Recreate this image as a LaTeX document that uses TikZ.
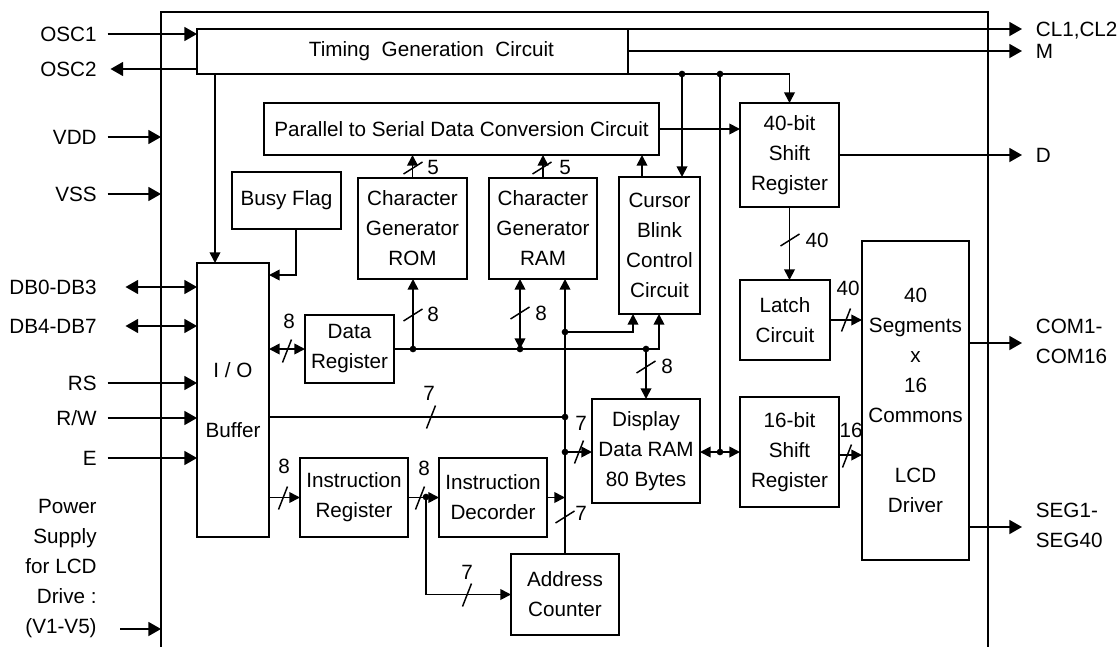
\documentclass[tikz,border=0pt]{standalone}
\usepackage{fontspec}
\setmainfont{Liberation Sans}
\usetikzlibrary{arrows.meta}
\newcommand{\mkblock}[6]{\node[blk,minimum width={(#4-#2)*0.75pt},minimum height={(#5-#3)*0.75pt}] (#1) at ({(#2+#4)/2},{(#3+#5)/2}) {#6};}
\newcommand{\hsl}[2]{\draw[slash] ({#1-4.5},{#2+11.5}) -- ({#1+4.5},{#2-11.5});}
\newcommand{\vsl}[2]{\draw[slash] ({#1-9.5},{#2+6}) -- ({#1+9.5},{#2-6});}
\begin{document}
\begin{tikzpicture}[x=0.75pt,y=-0.75pt,line width=1.3pt,
  every node/.style={font=\fontsize{15.5}{22.5}\selectfont},
  blk/.style={draw,line width=1.3pt,inner sep=0pt,outer sep=0pt,align=center},
  pinlbl/.style={inner sep=0pt,text height=11.1pt,text depth=0pt},
  mlbl/.style={inner sep=0pt},
  arr/.style={-{Triangle[length=8pt,width=8pt]}},
  darr/.style={{Triangle[length=8pt,width=8pt]}-{Triangle[length=8pt,width=8pt]}},
  pinarr/.style={-{Triangle[length=9.5pt,width=10.5pt]}},
  dpinarr/.style={{Triangle[length=9.5pt,width=10.5pt]}-{Triangle[length=9.5pt,width=10.5pt]}},
  slash/.style={line width=1.1pt},
  jdot/.style={fill=black}
]
\useasboundingbox (0,0) rectangle (1120,646);
\clip (0,0) rectangle (1120,646);

% blocks
\mkblock{chip}{161}{12}{988}{700}{}
\mkblock{tg}{197}{29}{628}{74}{\hspace*{28.5pt}Timing~ Generation~ Circuit}
\mkblock{ps}{264}{103}{659}{155}{Parallel to Serial Data Conversion Circuit}
\mkblock{sra}{740}{103}{839}{207}{40-bit\\Shift\\Register}
\mkblock{busy}{232}{172}{341}{229}{Busy Flag}
\mkblock{rom}{358}{178}{467}{279}{Character\\Generator\\ROM}
\mkblock{ram}{489}{178}{597}{279}{Character\\Generator\\RAM}
\mkblock{cur}{619}{177}{700}{314}{Cursor\\Blink\\Control\\Circuit}
\mkblock{io}{197}{263}{269}{537}{I / O\\[22.5pt]Buffer}
\mkblock{dreg}{305}{315}{394}{383}{Data\\Register}
\mkblock{latch}{740}{280}{830}{360}{Latch\\Circuit}
\mkblock{lcd}{862}{241}{969}{560}{40\\Segments\\x\\16\\Commons\\[22.5pt]LCD\\Driver}
\mkblock{ddram}{592}{399}{700}{503}{Display\\Data RAM\\80 Bytes}
\mkblock{srb}{740}{397}{839}{507}{16-bit\\Shift\\Register}
\mkblock{ir}{300}{458}{408}{537}{Instruction\\Register}
\mkblock{dec}{439}{458}{547}{537}{Instruction\\Decorder}
\mkblock{ac}{511}{554}{619}{635}{Address\\Counter}

% pin labels left
\node[pinlbl,anchor=east] (osc1) at (97.5,34) {OSC1};
\node[pinlbl,anchor=east] (osc2) at (97.5,69) {OSC2};
\node[pinlbl,anchor=east] (vdd) at (97.5,137) {VDD};
\node[pinlbl,anchor=east] (vss) at (97.5,194) {VSS};
\node[pinlbl,anchor=east] (db0) at (97.5,287) {DB0-DB3};
\node[pinlbl,anchor=east] (db4) at (97.5,326) {DB4-DB7};
\node[pinlbl,anchor=east] (rs) at (97.5,383) {RS};
\node[pinlbl,anchor=east] (rw) at (97.5,418) {R/W};
\node[pinlbl,anchor=east] (en) at (97.5,458) {E};
\node[mlbl,anchor=east,align=right] (pwr) at (97.5,568.5) {Power\\Supply\\for LCD\\Drive :\\(V1-V5)};
\coordinate (pwrpin) at (120,629);

% pin labels right
\node[pinlbl,anchor=west] (cl) at (1035,29) {CL1,CL2};
\node[pinlbl,anchor=west] (m) at (1035,51) {M};
\node[pinlbl,anchor=west] (d) at (1035,155) {D};
\node[mlbl,anchor=west,align=left] (com) at (1035,341.5) {COM1-\\COM16};
\node[mlbl,anchor=west,align=left] (seg) at (1035,525) {SEG1-\\SEG40};
\coordinate (comtip) at (1022,343);
\coordinate (segtip) at (1022,527);

% junctions
\coordinate (t215) at (215,74);
\coordinate (j682) at (682,74);
\coordinate (j720) at (720,74);
\coordinate (j720b) at (720,452);
\coordinate (j413) at (413,349);
\coordinate (j520) at (520,349);
\coordinate (j646) at (646,349);
\coordinate (x659) at (659,349);
\coordinate (a332) at (565,332);
\coordinate (x633) at (633,332);
\coordinate (a417) at (565,417);
\coordinate (a452) at (565,452);
\coordinate (j426) at (426,497);

% external connectors
\draw[pinarr] ([xshift=7.5pt]osc1.east) -- (tg.west |- osc1.east);
\draw[pinarr] (tg.west |- osc2.east) -- ([xshift=9.75pt]osc2.east);
\draw[pinarr] ([xshift=7.5pt]vdd.east) -- (chip.west |- vdd.east);
\draw[pinarr] ([xshift=7.5pt]vss.east) -- (chip.west |- vss.east);
\draw[dpinarr] ([xshift=21pt]db0.east) -- (io.west |- db0.east);
\draw[dpinarr] ([xshift=21pt]db4.east) -- (io.west |- db4.east);
\draw[pinarr] ([xshift=7.5pt]rs.east) -- (io.west |- rs.east);
\draw[pinarr] ([xshift=7.5pt]rw.east) -- (io.west |- rw.east);
\draw[pinarr] ([xshift=7.5pt]en.east) -- (io.west |- en.east);
\draw[pinarr] (pwrpin) -- (chip.west |- pwrpin);
\draw[pinarr] (tg.north east) -- ([xshift=-9.75pt]cl.west);
\draw[pinarr] (tg.east |- m.west) -- ([xshift=-9.75pt]m.west);
\draw[pinarr] (sra.east) -- ([xshift=-9.75pt]d.west);
\draw[pinarr] (lcd.east |- comtip) -- (comtip);
\draw[pinarr] (lcd.east |- segtip) -- (segtip);

% timing bus
\draw[arr] (tg.south east) -| (sra.north);
\draw[arr] (j682) -- (cur.north -| j682);
\draw (j720) -- (j720b);
\draw[arr] (t215) -- (io.north -| t215);

% internal connectors
\draw[arr] (ps.east) -- (sra.west |- ps.east);
\draw[arr] (sra.south) -- (latch.north -| sra.south);
\draw[arr] (latch.east) -- (lcd.west |- latch.east);
\draw[arr] (srb.east |- 0,455) -- (lcd.west |- 0,455);
\draw[darr] (ddram.east |- j720b) -- (srb.west |- j720b);
\draw[arr] (rom.north) -- (ps.south -| rom.north);
\draw[arr] (ram.north) -- (ps.south -| ram.north);
\draw[arr] (cur.north -| 642,0) -- (ps.south -| 642,0);
\draw[arr] (busy.south -| 296,0) |- (io.east |- 0,275);
\draw[darr] (io.east |- dreg.west) -- (dreg.west);
\draw[arr] (dreg.east) -| (cur.south -| x659);
\draw[arr] (j413) -- (rom.south -| j413);
\draw[darr] (j520) -- (ram.south -| j520);
\draw[arr] (j646) -- (ddram.north -| j646);
\draw[arr] (ac.north) -- (ram.south -| ac.north);
\draw[arr] (a332) -| (cur.south -| x633);
\draw (io.east |- a417) -- (a417);
\draw[arr] (a452) -- (ddram.west |- a452);
\draw[arr] (dec.east) -- (dec.east -| ac.north);
\draw[arr] (io.east |- ir.west) -- (ir.west);
\draw[arr] (ir.east) -- (dec.west);
\draw[arr] (j426) |- (ac.west);

% junction dots
\foreach \p in {j682,j720,j720b,j413,j520,j646,a332,a417,a452,j426}
  \fill[jdot] (\p) circle[radius=2.5pt];

% bus slashes
\vsl{413}{168} \vsl{542}{168} \vsl{413}{315} \vsl{520}{313} \vsl{646}{367} \vsl{790}{240} \vsl{565}{517}
\hsl{287}{351} \hsl{846}{320} \hsl{847}{456} \hsl{431}{417} \hsl{579}{452} \hsl{283}{498} \hsl{420}{498} \hsl{467}{595}

% bus width labels
\node[pinlbl] (w5a) at (433,167) {5};
\node[pinlbl] (w5b) at (565,167) {5};
\node[pinlbl] (w8rom) at (433,314) {8};
\node[pinlbl] (w8ram) at (541,313) {8};
\node[pinlbl] (w8dd) at (667,366) {8};
\node[pinlbl] (w8io) at (289,321) {8};
\node[pinlbl] (w40a) at (817,240) {40};
\node[pinlbl] (w40b) at (848,288) {40};
\node[pinlbl] (w16) at (851,430) {16};
\node[pinlbl] (w7io) at (429,393) {7};
\node[pinlbl] (w7dd) at (581,423) {7};
\node[pinlbl] (w7dec) at (581,513) {7};
\node[pinlbl] (w8ir) at (284,466) {8};
\node[pinlbl] (w8dec) at (424,468) {8};
\node[pinlbl] (w7ac) at (467,572) {7};
\end{tikzpicture}
\end{document}
